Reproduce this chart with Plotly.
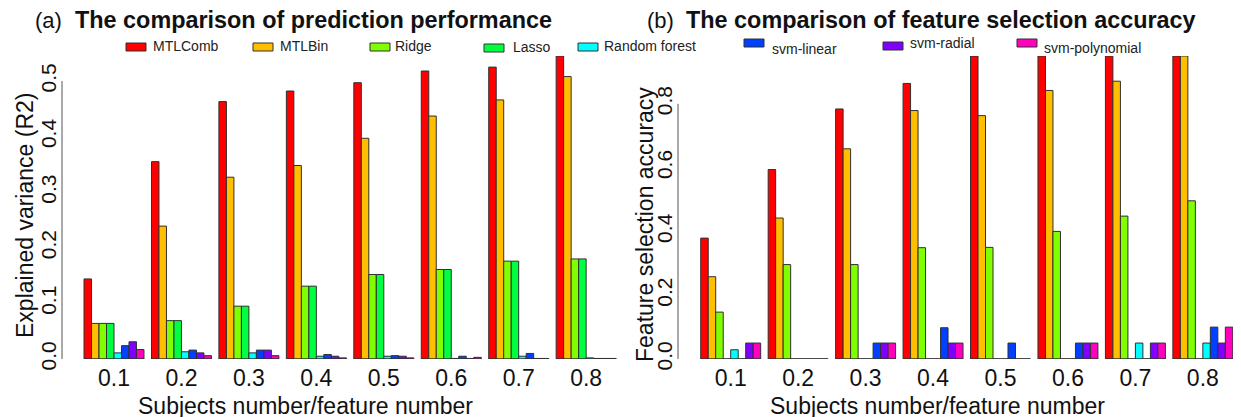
import plotly.graph_objects as go

# ---------------- data ----------------
ratios = ["0.1", "0.2", "0.3", "0.4", "0.5", "0.6", "0.7", "0.8"]
methods = ["MTLComb", "MTLBin", "Ridge", "Lasso", "Random forest",
           "svm-linear", "svm-radial", "svm-polynomial"]
colors = ["#FF0000", "#FFBF00", "#80FF00", "#00FF40", "#00FFFF",
          "#0040FF", "#8000FF", "#FF00BF"]

# (a) explained variance (R2)
r2_mtlcomb = [0.144, 0.355, 0.463, 0.482, 0.497, 0.518, 0.525, 0.545]
r2_mtlbin = [0.064, 0.239, 0.327, 0.348, 0.397, 0.437, 0.466, 0.508]
r2_ridge = [0.064, 0.069, 0.095, 0.131, 0.152, 0.161, 0.176, 0.180]
r2_lasso = [0.064, 0.069, 0.095, 0.131, 0.152, 0.161, 0.176, 0.180]
r2_rf = [0.011, 0.013, 0.011, 0.005, 0.005, 0.001, 0.005, 0.002]
r2_svm_linear = [0.024, 0.016, 0.016, 0.008, 0.006, 0.005, 0.010, 0.001]
r2_svm_radial = [0.031, 0.011, 0.016, 0.005, 0.005, 0.001, 0.001, 0.001]
r2_svm_poly = [0.017, 0.006, 0.006, 0.002, 0.002, 0.003, 0.001, 0.001]

# (b) feature selection accuracy
fs_mtlcomb = [0.379, 0.594, 0.784, 0.864, 0.95, 0.95, 0.95, 0.95]
fs_mtlbin = [0.258, 0.442, 0.659, 0.779, 0.763, 0.842, 0.871, 0.95]
fs_ridge = [0.147, 0.296, 0.296, 0.349, 0.350, 0.400, 0.448, 0.496]
fs_lasso = [0, 0, 0, 0, 0, 0, 0, 0]
fs_rf = [0.029, 0, 0, 0, 0, 0, 0.05, 0.05]
fs_svm_linear = [0, 0, 0.05, 0.098, 0.05, 0.05, 0, 0.1]
fs_svm_radial = [0.05, 0, 0.05, 0.05, 0, 0.05, 0.05, 0.05]
fs_svm_poly = [0.05, 0, 0.05, 0.05, 0, 0.05, 0.05, 0.1]

r2_series = [r2_mtlcomb, r2_mtlbin, r2_ridge, r2_lasso, r2_rf,
             r2_svm_linear, r2_svm_radial, r2_svm_poly]
fs_series = [fs_mtlcomb, fs_mtlbin, fs_ridge, fs_lasso, fs_rf,
             fs_svm_linear, fs_svm_radial, fs_svm_poly]

r2_ticks = [0.0, 0.1, 0.2, 0.3, 0.4, 0.5]
fs_ticks = [0.0, 0.2, 0.4, 0.6, 0.8]

# ---------------- layout helpers ----------------
W, H = 1241, 417
OFF = 8            # page body margin: figure origin sits at (8, 8) of the page
PLOT_TOP, PLOT_BOT = 56, 359   # page pixels
MT = PLOT_TOP - OFF
MB = H - (PLOT_BOT - OFF)
PH = H - MT - MB
FONT = "Liberation Sans, Arial, sans-serif"


def px(x):
    """page x pixel -> paper fraction"""
    return (x - OFF) / W


def py(y):
    """page y pixel -> paper fraction"""
    return (PLOT_BOT - y) / PH


fig = go.Figure()

for i, m in enumerate(methods):
    fig.add_trace(go.Bar(x=ratios, y=r2_series[i], name=m, xaxis="x", yaxis="y",
                         marker=dict(color=colors[i], line=dict(color="#303030", width=1)),
                         showlegend=False))
for i, m in enumerate(methods):
    fig.add_trace(go.Bar(x=ratios, y=fs_series[i], name=m, xaxis="x2", yaxis="y2",
                         marker=dict(color=colors[i], line=dict(color="#303030", width=1)),
                         showlegend=False))

gstep = 67.45
xax_common = dict(showgrid=False, zeroline=False, showline=False, ticks="",
                  ticklabelstandoff=3,
                  tickfont=dict(family=FONT, size=23, color="#111"))
yax_common = dict(showgrid=False, zeroline=False, showline=False, ticks="",
                  tickformat=".1f", tickangle=-90, ticklabelstandoff=1,
                  tickfont=dict(family=FONT, size=21, color="#111"))

fig.update_layout(
    width=W, height=H,
    margin=dict(l=0, r=0, t=MT, b=MB),
    paper_bgcolor="white", plot_bgcolor="white",
    barmode="group", bargap=1 / 9, bargroupgap=0,
    xaxis=dict(domain=[px(62), px(620)], anchor="y",
               range=[(62 - 114) / gstep, (620 - 114) / gstep], **xax_common),
    yaxis=dict(domain=[0, 1], anchor="x", range=[0, 0.545],
               tickvals=r2_ticks, **yax_common),
    xaxis2=dict(domain=[px(678), px(1238)], anchor="y2",
                range=[(678 - 730.7) / gstep, (1238 - 730.7) / gstep], **xax_common),
    yaxis2=dict(domain=[0, 1], anchor="x2", range=[0, 0.95],
                tickvals=fs_ticks, **yax_common),
)

shapes = []
# y-axis lines spanning the tick range (R style)
shapes.append(dict(type="line", xref="x domain", yref="y", x0=0, x1=0,
                   y0=r2_ticks[0], y1=r2_ticks[-1], line=dict(color="#555", width=1)))
shapes.append(dict(type="line", xref="x2 domain", yref="y2", x0=0, x1=0,
                   y0=fs_ticks[0], y1=fs_ticks[-1], line=dict(color="#555", width=1)))
# baseline under each bar group (zero-height bars)
for k in range(len(ratios)):
    for xr, yr in (("x", "y"), ("x2", "y2")):
        shapes.append(dict(type="line", xref=xr, yref=yr, x0=k - 4 / 9, x1=k + 4 / 9,
                           y0=0, y1=0, line=dict(color="#303030", width=1)))

# manual legend
leg_box_x = [126, 253, 370, 484, 578, 744, 883, 1017]
leg_text_x = [151, 278, 393, 511, 602, 770, 908, 1042]
leg_text_y = [46, 46, 46, 47, 46, 49, 43, 48]
leg_box_y = [47, 47, 47, 48, 47, 43, 46, 43]
annotations = []
for i, m in enumerate(methods):
    shapes.append(dict(type="rect", xref="paper", yref="paper",
                       x0=px(leg_box_x[i]), x1=px(leg_box_x[i] + 20),
                       y0=py(leg_box_y[i] + 4), y1=py(leg_box_y[i] - 4),
                       fillcolor=colors[i], line=dict(color="#303030", width=1)))
    annotations.append(dict(xref="paper", yref="paper", x=px(leg_text_x[i]),
                            y=py(leg_text_y[i]), text=m, showarrow=False,
                            xanchor="left", yanchor="middle",
                            font=dict(family=FONT, size=14, color="#222")))

# titles
title_kw = dict(xref="paper", yref="paper", showarrow=False, borderpad=0,
                xanchor="left", yanchor="middle")
annotations += [
    dict(x=px(34), y=py(20.5), text="(a)",
         font=dict(family=FONT, size=22, color="#111"), **title_kw),
    dict(x=px(74), y=py(20), text="<b>The comparison of prediction performance</b>",
         font=dict(family=FONT, size=23.4, color="#111"), **title_kw),
    dict(x=px(646), y=py(20.5), text="(b)",
         font=dict(family=FONT, size=22, color="#111"), **title_kw),
    dict(x=px(685), y=py(20), text="<b>The comparison of feature selection accuracy</b>",
         font=dict(family=FONT, size=23.4, color="#111"), **title_kw),
]
# axis titles
axt_kw = dict(xref="paper", yref="paper", showarrow=False, borderpad=0,
              xanchor="center", yanchor="middle",
              font=dict(family=FONT, size=23, color="#111"))
annotations += [
    dict(x=px(305), y=py(405.5), text="Subjects number/feature number", **axt_kw),
    dict(x=px(937), y=py(405.5), text="Subjects number/feature number", **axt_kw),
    dict(x=px(25), y=py(216), text="Explained variance (R2)", textangle=-90, **axt_kw),
    dict(x=px(645), y=py(225), text="Feature selection accuracy", textangle=-90, **axt_kw),
]

fig.update_layout(shapes=shapes, annotations=annotations)
fig.write_html("out.html")
